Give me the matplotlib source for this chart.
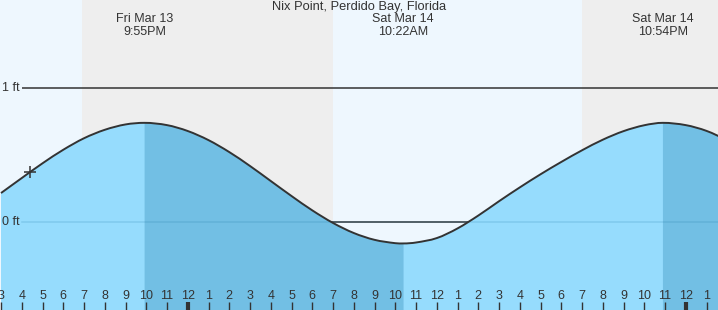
import matplotlib
matplotlib.use("Agg")
import matplotlib.pyplot as plt
import matplotlib.transforms as mtransforms
from matplotlib.path import Path
from matplotlib.patches import PathPatch
import numpy as np

plt.rcParams['font.family'] = ['Liberation Sans', 'DejaVu Sans']

# ---- data (hours since Fri Mar 13 00:00, feet) ----
title = "Nix Point, Perdido Bay, Florida"
tide_hours = [15, 16, 17, 18, 19, 20, 21, 21.92, 23, 24, 25, 26, 27, 28, 29, 30,
              31, 32, 33, 34, 34.4, 35, 36, 37, 38, 39, 40, 41, 42, 43, 44, 45, 46,
              46.9, 48, 49, 50]
tide_feet = [0.216, 0.328, 0.438, 0.539, 0.625, 0.688, 0.728, 0.74, 0.723, 0.679,
             0.611, 0.522, 0.418, 0.306, 0.194, 0.087, -0.007, -0.082, -0.133, -0.158,
             -0.16, -0.153, -0.12, -0.048, 0.048, 0.155, 0.258, 0.356, 0.448, 0.535,
             0.614, 0.678, 0.722, 0.74, 0.723, 0.68, 0.611]
high_low_hours = [21.92, 34.37, 46.9]
high_low_labels = [("Fri Mar 13", "9:55PM"), ("Sat Mar 14", "10:22AM"), ("Sat Mar 14", "10:54PM")]
falling_ranges = [(21.92, 34.4), (46.9, 50)]
night_ranges = [(18.9, 31.0), (43.0, 50)]
now_hour = 16.4
now_feet = 0.373
ft_levels = [1, 0]
ft_labels = ["1 ft", "0 ft"]
tick_hours = list(range(15, 50))

# ---- figure ----
W, H = 718, 310
fig = plt.figure(figsize=(W / 100, H / 100), dpi=100)
ax = fig.add_axes([0, 0, 1, 1])
px_per_h = 20.75
x0 = 15 - 1 / px_per_h
x1 = x0 + W / px_per_h
px_per_ft = 134.0
ytop = 222 / px_per_ft
ybot = -(H - 222) / px_per_ft
ax.set_xlim(x0, x1)
ax.set_ylim(ybot, ytop)
ax.axis('off')

day_bg = '#eef7fe'
night_bg = '#eeeeee'
water_light = '#96dcfd'
water_dark = '#72bfe4'
ink = '#333333'

ax.add_patch(plt.Rectangle((x0, ybot), x1 - x0, ytop - ybot, color=day_bg, zorder=0, lw=0))
for a, b in night_ranges:
    ax.axvspan(a, b, color=night_bg, zorder=0.5, lw=0)

# reference lines
xl = x0 + 22 / px_per_h
for lev in ft_levels:
    ax.plot([xl, x1], [lev, lev], color=ink, lw=1.1, zorder=1, solid_capstyle='butt')

t = np.array(tide_hours, dtype=float)
h = np.array(tide_feet, dtype=float)
ext = set(high_low_hours) | {34.4}

# slopes for a smooth (Hermite/Bezier) rendering of the curve through the points
n = len(t)
m = np.zeros(n)
for i in range(n):
    if t[i] in ext:
        m[i] = 0.0
    elif i == 0:
        m[i] = (h[1] - h[0]) / (t[1] - t[0])
    elif i == n - 1:
        m[i] = (h[-1] - h[-2]) / (t[-1] - t[-2])
    else:
        m[i] = (h[i + 1] - h[i - 1]) / (t[i + 1] - t[i - 1])


def curve_verts(i0, i1):
    verts = [(t[i0], h[i0])]
    codes = [Path.MOVETO]
    for i in range(i0, i1):
        dt = t[i + 1] - t[i]
        verts += [(t[i] + dt / 3, h[i] + m[i] * dt / 3),
                  (t[i + 1] - dt / 3, h[i + 1] - m[i + 1] * dt / 3),
                  (t[i + 1], h[i + 1])]
        codes += [Path.CURVE4] * 3
    return verts, codes


def fill_patch(i0, i1, color, z):
    verts, codes = curve_verts(i0, i1)
    verts += [(t[i1], ybot), (t[i0], ybot), (t[i0], h[i0])]
    codes += [Path.LINETO, Path.LINETO, Path.CLOSEPOLY]
    ax.add_patch(PathPatch(Path(verts, codes), facecolor=color, lw=0, zorder=z))


fill_patch(0, n - 1, water_light, 2)
for a, b in falling_ranges:
    i0 = int(np.argmin(np.abs(t - a)))
    i1 = int(np.argmin(np.abs(t - b)))
    fill_patch(i0, i1, water_dark, 2.1)

# faint zero line seen through water
ax.plot([xl, x1], [0, 0], color='#1a6fa0', lw=1.1, alpha=0.18, zorder=2.5)

v, c = curve_verts(0, n - 1)
ax.add_patch(PathPatch(Path(v, c), facecolor='none', edgecolor=ink, lw=1.4, zorder=3))
ax.plot([now_hour], [now_feet], marker='+', color=ink, ms=9, mew=1.1, zorder=4)

# ft labels
for lev, lab in zip(ft_levels, ft_labels):
    ax.text(x0 + 20 / px_per_h, lev, lab, ha='right', va='center', fontsize=9,
            color=ink, zorder=5)

# title and extreme labels
ax.text((x0 + x1) / 2, (222 - 7.5) / px_per_ft, title, ha='center', va='center',
        fontsize=9.3, color=ink, zorder=5)
for hh, (d, tm) in zip(high_low_hours, high_low_labels):
    ax.text(hh, (222 - 19.5) / px_per_ft, d, ha='center', va='center', fontsize=9,
            color=ink, zorder=5)
    ax.text(hh, (222 - 32) / px_per_ft, tm, ha='center', va='center', fontsize=9,
            color=ink, zorder=5)

# hour ticks
trans = mtransforms.blended_transform_factory(ax.transData, ax.transAxes)
for th in tick_hours:
    hod = th % 24
    lab = str((hod - 1) % 12 + 1)
    lw = 3 if hod == 0 else 1
    ax.plot([th, th], [0, 8 / H], color=ink, lw=lw, transform=trans, zorder=5,
            solid_capstyle='butt')
    ax.text(th, 14 / H, lab, ha='center', va='center', fontsize=9, color=ink,
            transform=trans, zorder=5)

fig.savefig('out.png', dpi=100)
